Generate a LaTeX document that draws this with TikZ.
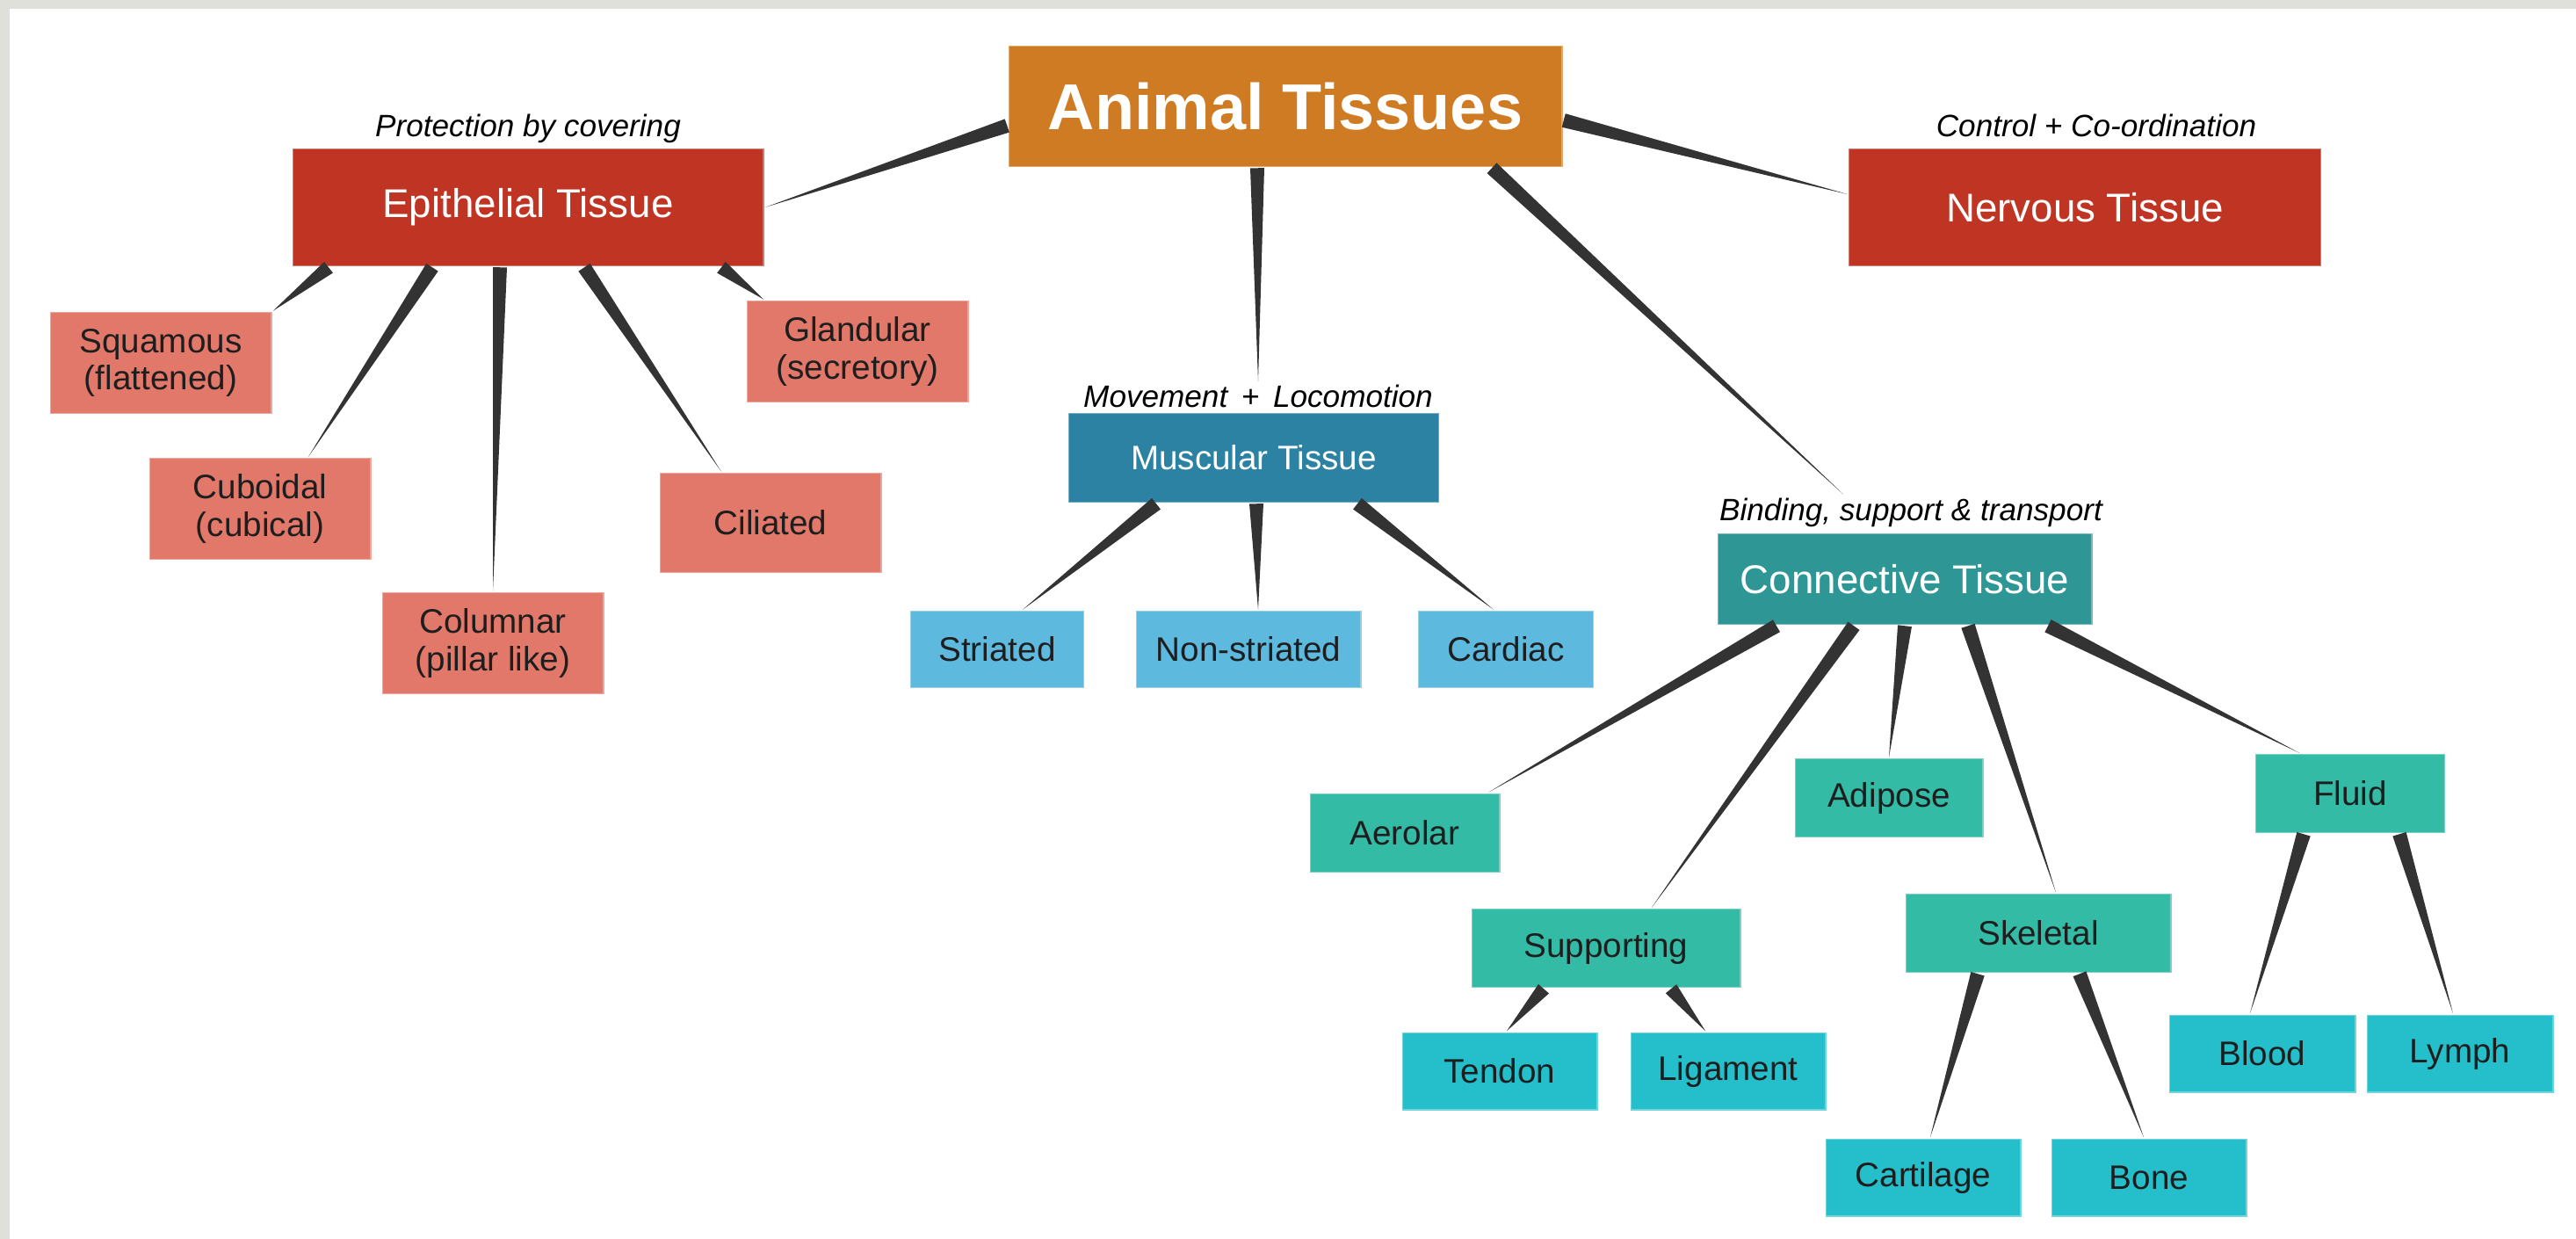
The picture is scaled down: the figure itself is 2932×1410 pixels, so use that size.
\documentclass[tikz,border=0pt]{standalone}
\usepackage{fontspec}
\setmainfont{Liberation Sans}
\usetikzlibrary{calc}

\definecolor{bandgray}{HTML}{E0E0DB}
\definecolor{linkgray}{HTML}{333333}
\definecolor{textdark}{HTML}{1E1E1E}
\definecolor{animalorange}{HTML}{CF7B24}
\definecolor{tissred}{HTML}{BF3422}
\definecolor{episalmon}{HTML}{E2786A}
\definecolor{musblue}{HTML}{2B82A2}
\definecolor{muslight}{HTML}{5DB9DE}
\definecolor{conteal}{HTML}{2F9696}
\definecolor{congreen}{HTML}{33BBA6}
\definecolor{leafcyan}{HTML}{25BFCB}

% tapered connector: thick at the parent, thin at the child
\newcommand{\taperlink}[2]{%
  \path #1 coordinate (ta) #2 coordinate (tb);
  \fill[linkgray] ($(ta)!0.8mm!90:(tb)$) -- ($(ta)!0.8mm!-90:(tb)$) -- (tb) -- cycle;}

\begin{document}
\begin{tikzpicture}[x=0.1mm, y=-0.1mm,
    tbox/.style={rectangle, inner sep=0pt, align=center, text=textdark,
                 draw=white, draw opacity=0.35, line width=0.25mm,
                 font=\fontsize{11}{12}\selectfont},
    root/.style={tbox, fill=animalorange, text=white, font=\bfseries\fontsize{21}{24}\selectfont},
    main/.style={tbox, fill=tissred, text=white, font=\fontsize{13}{15}\selectfont},
    epikid/.style={tbox, fill=episalmon, minimum width=25.3mm, minimum height=11.6mm},
    muskid/.style={tbox, fill=muslight, minimum height=8.8mm},
    conkid/.style={tbox, fill=congreen, minimum height=9mm},
    leaf/.style={tbox, fill=leafcyan, minimum width=22.3mm, minimum height=8.9mm},
    note/.style={inner sep=1pt, font=\itshape\fontsize{10}{12}\selectfont}]

% frame
\useasboundingbox (0,0) rectangle (2932,1410);
\fill[white] (0,0) rectangle (2932,1410);
\fill[bandgray] (0,0) rectangle (2932,10);
\fill[bandgray] (0,0) rectangle (11,1410);

% nodes
\node[root, minimum width=63.1mm, minimum height=13.8mm] (animal) at (1463,121) {Animal Tissues};

\node[main, minimum width=53.7mm, minimum height=13.4mm] (epi) at (601,236) {Epithelial Tissue};
\node[note] (epinote) at (601,146) {Protection by covering};
\node[main, minimum width=53.8mm, minimum height=13.4mm] (nerv) at (2373,236) {Nervous Tissue};
\node[note] (nervnote) at (2386,143) {Control + Co-ordination};
\node[main, fill=musblue, font=\fontsize{11}{13}\selectfont, minimum width=42.2mm, minimum height=10.2mm] (mus) at (1427,521) {Muscular Tissue};
\node[note] (musnote) at (1432,451) {Movement \,+\, Locomotion};
\node[main, fill=conteal, minimum width=42.7mm, minimum height=10.4mm] (con) at (2168,659) {Connective Tissue};
\node[note] (connote) at (2175,583) {Binding, support \& transport};

\node[epikid] (squa) at (183,413) {Squamous\\(flattened)};
\node[epikid] (cub) at (296,579) {Cuboidal\\(cubical)};
\node[epikid] (col) at (561,732) {Columnar\\(pillar like)};
\node[epikid, minimum height=11.4mm] (cil) at (877,595) {Ciliated};
\node[epikid] (gland) at (976,400) {Glandular\\(secretory)};

\node[muskid, minimum width=19.8mm] (stri) at (1135,739) {Striated};
\node[muskid, minimum width=25.7mm] (nonstri) at (1421,739) {Non-striated};
\node[muskid, minimum width=20mm] (card) at (1714,739) {Cardiac};

\node[conkid, minimum width=21.7mm] (aer) at (1599,948) {Aerolar};
\node[conkid, minimum width=21.5mm] (adi) at (2150,908) {Adipose};
\node[conkid, minimum width=21.6mm] (fluid) at (2675,903) {Fluid};
\node[conkid, minimum width=30.7mm] (sup) at (1828,1079) {Supporting};
\node[conkid, minimum width=30.3mm] (skel) at (2320,1062) {Skeletal};

\node[leaf] (ten) at (1707,1219) {Tendon};
\node[leaf] (lig) at (1967,1219) {Ligament};
\node[leaf, minimum width=21.3mm] (blood) at (2575,1199) {Blood};
\node[leaf, minimum width=21.3mm] (lymph) at (2800,1199) {Lymph};
\node[leaf] (cart) at (2189,1340) {Cartilage};
\node[leaf] (bone) at (2446,1340) {Bone};

% connectors
\taperlink{($(animal.west)+(0,22)$)}{(epi.east)}
\taperlink{($(animal.east)+(0,16)$)}{($(nerv.west)+(0,-15)$)}
\taperlink{($(animal.south)+(-32,0)$)}{(musnote.north)}
\taperlink{($(animal.south)+(235,0)$)}{($(connote.north west)+(145,0)$)}

\taperlink{($(epi.south)+(-227,0)$)}{(squa.north east)}
\taperlink{($(epi.south)+(-109,0)$)}{($(cub.north)+(55,0)$)}
\taperlink{($(epi.south)+(-32,0)$)}{(col.north)}
\taperlink{($(epi.south)+(64,0)$)}{($(cil.north)+(-56,0)$)}
\taperlink{($(epi.south)+(220,0)$)}{($(gland.north west)+(21,0)$)}

\taperlink{($(mus.south)+(-111,0)$)}{($(stri.north)+(29,0)$)}
\taperlink{($(mus.south)+(3,0)$)}{($(nonstri.north)+(11,0)$)}
\taperlink{($(mus.south)+(118,0)$)}{($(card.north)+(-14,0)$)}

\taperlink{($(con.south)+(-146,0)$)}{($(aer.north)+(95,0)$)}
\taperlink{($(con.south)+(-58,0)$)}{($(sup.north)+(52,0)$)}
\taperlink{($(con.south)+(0,0)$)}{(adi.north)}
\taperlink{($(con.south)+(72,0)$)}{($(skel.north)+(20,0)$)}
\taperlink{($(con.south)+(163,0)$)}{($(fluid.north)+(-58,0)$)}

\taperlink{($(sup.south)+(-71,0)$)}{($(ten.north)+(8,0)$)}
\taperlink{($(sup.south)+(74,0)$)}{($(lig.north)+(-26,0)$)}
\taperlink{($(skel.south)+(-69,0)$)}{($(cart.north)+(8,0)$)}
\taperlink{($(skel.south)+(47,0)$)}{($(bone.north)+(-6,0)$)}
\taperlink{($(fluid.south)+(-53,0)$)}{($(blood.north)+(-14,0)$)}
\taperlink{($(fluid.south)+(56,0)$)}{($(lymph.north)+(-8,0)$)}
\end{tikzpicture}
\end{document}
